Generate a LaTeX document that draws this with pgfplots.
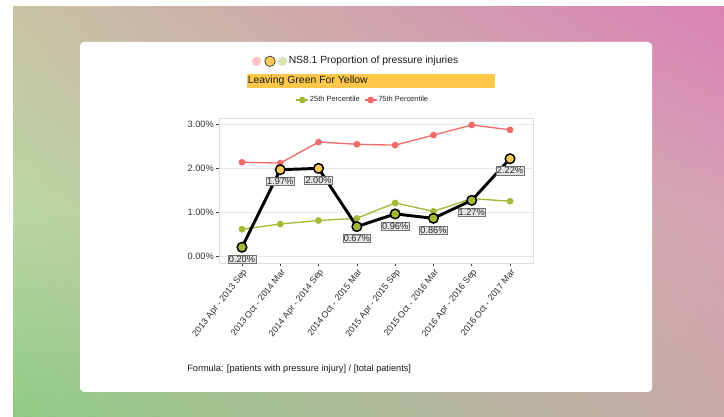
\documentclass[border=0pt]{standalone}
\usepackage{pgfplots}
\pgfplotsset{compat=1.18}
\usepackage{fontspec}
\setmainfont{Liberation Sans}
\usetikzlibrary{shadings}
\definecolor{bgTL}{HTML}{C8C3A4}
\definecolor{bgTR}{HTML}{D981B6}
\definecolor{bgML}{HTML}{BAD6A3}
\definecolor{bgMR}{HTML}{D6A2B3}
\definecolor{bgBL}{HTML}{8FCA85}
\definecolor{bgBR}{HTML}{C7A8A8}
\definecolor{pgreen}{HTML}{A3BA37}
\definecolor{pred}{HTML}{F06C6C}
\definecolor{pyellow}{HTML}{FCC957}
\definecolor{banner}{HTML}{FFC84A}
\definecolor{cpink}{HTML}{FFC2C6}
\definecolor{cgreen}{HTML}{D6E4B5}
\pgfplotstableread{
x y c
0 0.20 g
1 1.97 y
2 2.00 y
3 0.67 g
4 0.96 g
5 0.86 g
6 1.27 g
7 2.22 y
}\mainT
\pgfplotstableread{
x p25 p75
0 0.61 2.14
1 0.73 2.12
2 0.81 2.60
3 0.86 2.55
4 1.21 2.53
5 1.02 2.76
6 1.31 2.99
7 1.25 2.88
}\pctT
\begin{document}
\begin{tikzpicture}[x=0.75pt,y=0.75pt]
\fill[white] (0,0) rectangle (724,417);
\shade[shading=bilinear interpolation, upper left=bgML, upper right=bgMR, lower left=bgBL, lower right=bgBR] (13,0) rectangle (724,206);
\shade[shading=bilinear interpolation, upper left=bgTL, upper right=bgTR, lower left=bgML, lower right=bgMR] (13,205) rectangle (724,410);
\fill[white, rounded corners=3pt] (80,25) rectangle (652,375);
% title
\fill[cpink] (256.5,355.7) circle (4.6);
\fill[pyellow, draw=black!80, line width=0.5pt] (270,355.7) circle (5.2);
\fill[cgreen] (282.5,355.7) circle (4.6);
\node[anchor=west, inner sep=0, font=\fontsize{7.75pt}{9pt}\selectfont, text=black!90] at (288.5,355.7) {NS8.1 Proportion of pressure injuries};
\fill[banner] (247,329) rectangle (495,343);
\node[anchor=west, inner sep=0, font=\fontsize{7.85pt}{9pt}\selectfont, text=black!90] at (247.5,336) {Leaving Green For Yellow};
\node[anchor=west, inner sep=0, font=\fontsize{6.9pt}{8pt}\selectfont, text=black!90] at (187,48) {Formula: [patients with pressure injury] / [total patients]};
\begin{axis}[
  at={(164.25pt,115.5pt)}, anchor=south west,
  scale only axis, width=235.5pt, height=108.75pt,
  xmin=-0.6, xmax=7.6, ymin=-0.16, ymax=3.15,
  /pgf/number format/assume math mode=true,
  axis line style={draw=black!13, line width=0.5pt},
  ymajorgrids, grid style={draw=black!9, line width=0.7pt},
  tick align=outside, tick pos=left, major tick length=2.25pt,
  tick style={draw=black!75, line width=0.5pt},
  xtick={0,...,7},
  xticklabels={2013 Apr - 2013 Sep,2013 Oct - 2014 Mar,2014 Apr - 2014 Sep,2014 Oct - 2015 Mar,2015 Apr - 2015 Sep,2015 Oct - 2016 Mar,2016 Apr - 2016 Sep,2016 Oct - 2017 Mar},
  x tick label style={rotate=52, anchor=north east, font=\fontsize{6.7pt}{8pt}\selectfont, text=black!82, inner sep=1pt},
  ytick={0,1,2,3},
  yticklabels={0.00\%,1.00\%,2.00\%,3.00\%},
  y tick label style={font=\fontsize{6.9pt}{8pt}\selectfont, text=black!80, inner sep=1.5pt},
  legend columns=2,
  legend style={at={(axis description cs:0.457,1.124)}, anchor=center, draw=none, fill=none,
    font=\fontsize{5.6pt}{7pt}\selectfont, text=black!85,
    /tikz/every even column/.append style={column sep=2.5pt}, inner sep=0pt,
    nodes={inner sep=0.8pt}},
  legend image code/.code={\draw[#1, mark repeat=2, mark phase=2] plot coordinates {(0pt,0pt) (4.4pt,0pt) (8.8pt,0pt)};},
  clip=false,
]
\addplot[pgreen, line width=1pt, mark=*, mark size=2pt, mark options={draw=pgreen, fill=pgreen}] table[x=x, y=p25] {\pctT};
\addlegendentry{25th Percentile}
\addplot[pred, line width=1pt, mark=*, mark size=2pt, mark options={draw=pred, fill=pred}] table[x=x, y=p75] {\pctT};
\addlegendentry{75th Percentile}
\addplot[black, line width=2.2pt, forget plot] table[x=x, y=y] {\mainT};
\addplot[only marks, scatter, scatter src=explicit symbolic, mark=*, mark size=3.6pt, forget plot,
  scatter/classes={g={mark=*, draw=black, fill=pgreen, line width=1.1pt}, y={mark=*, draw=black, fill=pyellow, line width=1.1pt}}]
  table[x=x, y=y, meta=c] {\mainT};
\addplot[draw=none, forget plot, point meta=y,
  nodes near coords={\pgfmathprintnumber[fixed,fixed zerofill,precision=2]{\pgfplotspointmeta}\%},
  every node near coord/.append style={anchor=center, yshift=-9pt, font=\fontsize{6.9pt}{8pt}\selectfont,
    fill=black!10, draw=black!55, line width=0.4pt, inner sep=0.6pt, text=black!85}]
  table[x=x, y=y] {\mainT};
\end{axis}
\end{tikzpicture}
\end{document}
